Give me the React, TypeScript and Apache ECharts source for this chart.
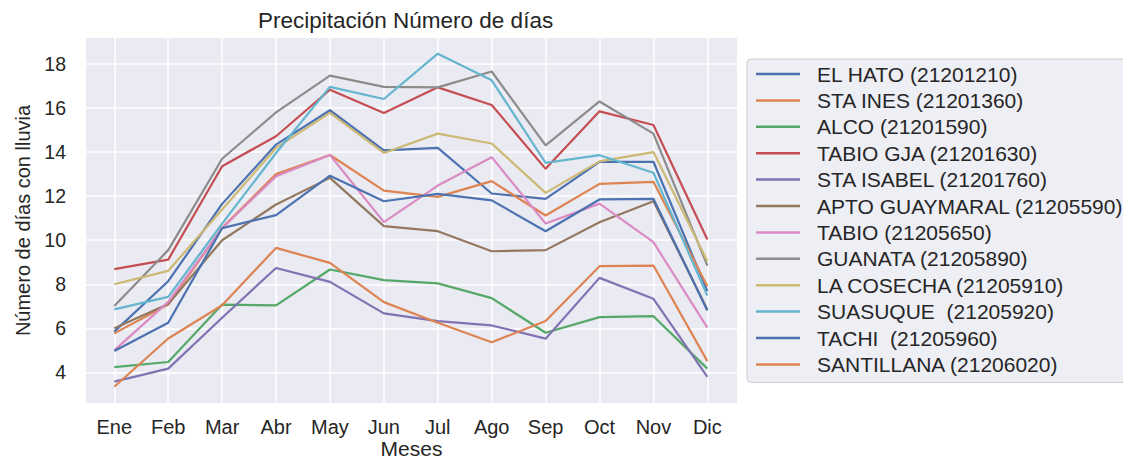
import React, { useEffect, useRef } from "react";
import * as echarts from "echarts";

const months = ["Ene", "Feb", "Mar", "Abr", "May", "Jun", "Jul", "Ago", "Sep", "Oct", "Nov", "Dic"];
const yTicks = [4, 6, 8, 10, 12, 14, 16, 18];

const stationNames = [
  "EL HATO (21201210)",
  "STA INES (21201360)",
  "ALCO (21201590)",
  "TABIO GJA (21201630)",
  "STA ISABEL (21201760)",
  "APTO GUAYMARAL (21205590)",
  "TABIO (21205650)",
  "GUANATA (21205890)",
  "LA COSECHA (21205910)",
  "SUASUQUE  (21205920)",
  "TACHI  (21205960)",
  "SANTILLANA (21206020)",
];

const elHato = [5.85, 8.14, 11.65, 14.34, 15.9, 14.08, 14.19, 12.12, 11.88, 13.56, 13.56, 7.69];
const staInes = [5.77, 7.08, 10.56, 13.0, 13.87, 12.25, 11.97, 12.68, 11.12, 12.56, 12.65, 7.91];
const alco = [4.24, 4.47, 7.08, 7.04, 8.67, 8.19, 8.04, 7.37, 5.8, 6.51, 6.55, 4.17];
const tabioGja = [8.69, 9.12, 13.36, 14.72, 16.83, 15.78, 16.94, 16.14, 13.24, 15.85, 15.23, 10.03];
const staIsabel = [3.58, 4.17, 6.48, 8.74, 8.11, 6.68, 6.33, 6.13, 5.53, 8.29, 7.34, 3.8];
const aptoGuaymaral = [6.0, 7.1, 10.0, 11.62, 12.83, 10.64, 10.41, 9.5, 9.55, 10.82, 11.77, 6.85];
const tabio = [5.0, 7.2, 10.55, 12.9, 13.87, 10.82, 12.48, 13.77, 10.76, 11.66, 9.91, 6.03];
const guanata = [7.01, 9.55, 13.7, 15.8, 17.47, 16.96, 16.94, 17.66, 14.31, 16.3, 14.84, 8.85];
const laCosecha = [8.0, 8.61, 11.39, 14.19, 15.78, 13.96, 14.84, 14.39, 12.15, 13.58, 14.0, 9.05];
const suasuque = [6.86, 7.43, 10.75, 13.96, 16.96, 16.41, 18.47, 17.26, 13.51, 13.86, 13.06, 7.49];
const tachi = [4.97, 6.25, 10.55, 11.14, 12.93, 11.77, 12.1, 11.81, 10.41, 11.85, 11.88, 6.81];
const santillana = [3.35, 5.54, 7.05, 9.65, 8.97, 7.19, 6.25, 5.37, 6.33, 8.82, 8.85, 4.51];

const seriesValues = [
  elHato, staInes, alco, tabioGja, staIsabel, aptoGuaymaral,
  tabio, guanata, laCosecha, suasuque, tachi, santillana,
];

const palette = [
  "#4C72B0", "#DD8452", "#55A868", "#C44E52", "#8172B3", "#937860",
  "#DA8BC3", "#8C8C8C", "#CCB974", "#64B5CD", "#4C72B0", "#DD8452",
];

const FONT = "'Liberation Sans', Arial, sans-serif";
const TEXT = "#262626";

export default function App() {
  const ref = useRef<HTMLDivElement>(null);

  useEffect(() => {
    if (!ref.current) return;
    const chart = echarts.init(ref.current, null, { renderer: "svg" });
    const monthIdx = months.map((_, i) => i);

    chart.setOption({
      animation: false,
      color: palette,
      textStyle: { fontFamily: FONT },
      title: {
        text: "Precipitación Número de días",
        left: 258,
        top: 9,
        padding: 0,
        textStyle: { fontFamily: FONT, fontSize: 22.5, fontWeight: "normal", color: TEXT },
      },
      grid: {
        left: 86,
        top: 38,
        width: 651,
        height: 365,
        show: true,
        backgroundColor: "#EAEAF2",
        borderWidth: 0,
        containLabel: false,
        outerBoundsMode: "none",
      },
      legend: {
        orient: "vertical",
        left: 747,
        top: 59,
        padding: [4, 12, 7, 9],
        itemGap: 4.4,
        itemWidth: 44,
        itemHeight: 2.5,
        icon: "rect",
        backgroundColor: "rgba(234,234,242,0.8)",
        borderColor: "#cccccc",
        borderWidth: 1,
        borderRadius: 4,
        textStyle: {
          fontFamily: FONT,
          fontSize: 21,
          lineHeight: 22,
          color: TEXT,
          padding: [0, 0, 0, 12],
        },
        data: stationNames,
      },
      xAxis: {
        type: "value",
        min: -0.525,
        max: 11.55,
        name: "Meses",
        nameLocation: "middle",
        nameGap: 35,
        nameMoveOverlap: false,
        nameTextStyle: { fontFamily: FONT, fontSize: 21, color: TEXT },
        axisLine: { show: false },
        axisTick: { show: false, customValues: monthIdx },
        axisLabel: {
          customValues: monthIdx,
          margin: 14,
          fontFamily: FONT,
          fontSize: 20,
          color: TEXT,
          formatter: (v: number) => months[Math.round(v)] ?? "",
        },
        splitLine: { show: true, lineStyle: { color: "#ffffff", width: 1.5 } },
      },
      yAxis: {
        type: "value",
        min: 2.61,
        max: 19.18,
        name: "Número de días con lluvia",
        nameLocation: "middle",
        nameGap: 53,
        nameMoveOverlap: false,
        nameTextStyle: { fontFamily: FONT, fontSize: 20, color: TEXT },
        axisLine: { show: false },
        axisTick: { show: false, customValues: yTicks },
        axisLabel: {
          customValues: yTicks,
          margin: 20,
          fontFamily: FONT,
          fontSize: 19.5,
          color: TEXT,
          formatter: (v: number) => String(Math.round(v)),
        },
        splitLine: { show: true, lineStyle: { color: "#ffffff", width: 1.5 } },
      },
      series: stationNames.map((name, s) => ({
        name,
        type: "line",
        showSymbol: false,
        symbol: "none",
        lineStyle: { width: 2.2, color: palette[s] },
        itemStyle: { color: palette[s] },
        data: seriesValues[s].map((v, i) => [i, v]),
      })),
    });

    return () => chart.dispose();
  }, []);

  return (
    <div
      ref={ref}
      style={{ position: "fixed", left: 0, top: 0, width: 1123, height: 460, background: "#ffffff" }}
    />
  );
}
